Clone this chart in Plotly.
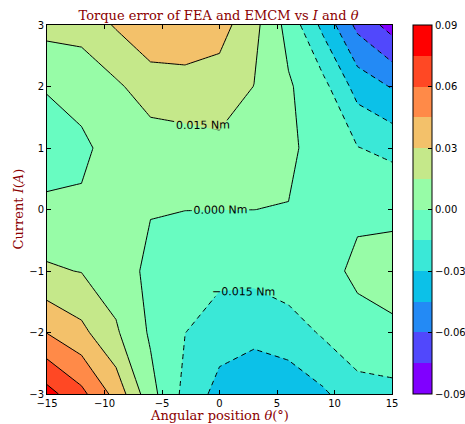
import plotly.graph_objects as go

# ---------------- data ----------------
theta = [-15, -12, -9, -6, -3, 0, 3, 6, 9, 12, 15]          # angular position (deg)
current = [-3, -2, -1, 0, 1, 2, 3]                          # current (A)

err_i_m3 = [0.0805, 0.064, 0.040, 0.005, -0.019, -0.0355, -0.040, -0.039, -0.0323, -0.0207, -0.0202]
err_i_m2 = [0.0445, 0.0339, 0.0169, -0.002, -0.0148, -0.0231, -0.0263, -0.0226, -0.0131, -0.0053, -0.0004]
err_i_m1 = [0.0167, 0.0145, 0.0079, -0.0036, -0.010, -0.011, -0.0106, -0.0057, -0.005, 0.003, 0.0009]
err_i_0 = [0.0055, 0.002, 0.006, 0.0007, 0.0002, 0.0001, 0.00005, -0.0006, -0.004, -0.0024, -0.0005]
err_i_p1 = [-0.0134, -0.0027, 0.0054, 0.0076, 0.0097, 0.0117, 0.009, 0.004, -0.0093, -0.0145, -0.0193]
err_i_p2 = [0.002, 0.005, 0.0126, 0.0224, 0.023, 0.023, 0.0148, 0.0017, -0.0103, -0.036, -0.046]
err_i_p3 = [0.0196, 0.0206, 0.0314, 0.0414, 0.043, 0.036, 0.0193, -0.005, -0.034, -0.064, -0.081]

z = [err_i_m3, err_i_m2, err_i_m1, err_i_0, err_i_p1, err_i_p2, err_i_p3]

level_start = -0.09
level_end = 0.09
level_step = 0.015
cbar_ticks = [-0.09, -0.06, -0.03, 0.0, 0.03, 0.06, 0.09]
x_ticks = [-15, -10, -5, 0, 5, 10, 15]
y_ticks = [-3, -2, -1, 0, 1, 2, 3]

# rainbow colormap sampled at 12 bands
band_colors = ['#8000ff', '#5148fc', '#238af5', '#0cc1e8', '#3ae8d7', '#68fcc1',
               '#97fca7', '#c5e88a', '#f3c16a', '#ff8a48', '#ff4824', '#ff0000']
nb = len(band_colors)
nseg = nb + 1

# stepped fill colorscale: band k is sampled at s=(k+1)/13, so steps sit at half points
edges = [0.0] + [(k + 0.5) / nseg for k in range(1, nb)] + [1.0]
fill_scale = []
for k, c in enumerate(band_colors):
    fill_scale.append([edges[k], c])
    fill_scale.append([edges[k + 1], c])

bar_scale = []
for k, c in enumerate(band_colors):
    bar_scale.append([k / nb, c])
    bar_scale.append([(k + 1) / nb, c])

black_scale = [[0, 'black'], [1, 'black']]
TRANSPARENT = 'rgba(0,0,0,0)'
DEJAVU = 'DejaVu Sans'
SERIF = 'DejaVu Serif'
TITLE_RED = '#8b0000'
LABEL_FONT = dict(family=DEJAVU, size=11, color='black')


def hidden_cbar():
    # off-canvas colour bar without ticks: only gives contour labels the " Nm" suffix
    return dict(thickness=10, len=0.3, x=-2, xanchor='right', y=0.5, outlinewidth=0,
                tickformat='.3f', ticksuffix=' Nm', ticks='',
                tickmode='array', tickvals=[],
                tickfont=dict(color=TRANSPARENT, size=10))


fig = go.Figure()

# filled contour
fig.add_trace(go.Contour(
    x=theta, y=current, z=z,
    contours=dict(start=level_start, end=level_end, size=level_step,
                  coloring='fill', showlines=False),
    colorscale=fill_scale, showscale=False,
    line=dict(width=0, smoothing=0), hoverinfo='skip'))

# positive / zero levels: solid lines with labels
fig.add_trace(go.Contour(
    x=theta, y=current, z=z,
    contours=dict(start=0.0, end=level_end, size=level_step,
                  coloring='lines', showlabels=True, labelfont=LABEL_FONT),
    colorscale=black_scale, showscale=True, colorbar=hidden_cbar(),
    line=dict(width=1, smoothing=0), hoverinfo='skip'))

# negative levels: dashed lines with labels
fig.add_trace(go.Contour(
    x=theta, y=current, z=z,
    contours=dict(start=level_start, end=-level_step, size=level_step,
                  coloring='lines', showlabels=True, labelfont=LABEL_FONT),
    colorscale=black_scale, showscale=True, colorbar=hidden_cbar(),
    line=dict(width=1, smoothing=0, dash='5px,4px'), hoverinfo='skip'))

# colour bar
fig.add_trace(go.Scatter(
    x=[theta[0]], y=[current[0]], mode='markers', hoverinfo='skip',
    marker=dict(size=1, opacity=0, color=[0], cmin=level_start, cmax=level_end,
                colorscale=bar_scale, showscale=True,
                colorbar=dict(x=1.061, xanchor='left', xpad=0, y=0.5, yanchor='middle',
                              ypad=0, len=1, lenmode='fraction', thickness=19,
                              outlinewidth=1, outlinecolor='black',
                              tickvals=cbar_ticks, tickformat='.2f',
                              ticks='inside', ticklen=4, tickcolor='black',
                              tickfont=dict(family=DEJAVU, size=10, color='black'))),
    showlegend=False))

axis_common = dict(showgrid=False, zeroline=False, showline=True, linecolor='black',
                   linewidth=1, mirror='ticks', ticks='inside', ticklen=4,
                   tickcolor='black', tickfont=dict(family=DEJAVU, size=10, color='black'))

fig.update_layout(
    width=465, height=424,
    margin=dict(l=47, r=73, t=25, b=30, autoexpand=False),
    paper_bgcolor='white', plot_bgcolor='white',
    showlegend=False,
    xaxis=dict(range=[-15, 15], tickvals=x_ticks, **axis_common),
    yaxis=dict(range=[-3, 3], tickvals=y_ticks, **axis_common),
    title=dict(text='Torque error of FEA and EMCM vs <i>I</i> and <i>θ</i>',
               x=0.47, xanchor='center', y=1 - 15 / 424, yanchor='middle',
               xref='container', yref='container',
               font=dict(family=SERIF, size=13, color=TITLE_RED)),
    annotations=[
        dict(text='Angular position <i>θ</i>(°)', xref='paper', yref='paper',
             x=0.5, y=-0.057, xanchor='center', yanchor='middle', showarrow=False,
             font=dict(family=SERIF, size=13, color=TITLE_RED)),
        dict(text='Current <i>I</i>(<i>A</i>)', xref='paper', yref='paper',
             x=-0.084, y=0.5, xanchor='center', yanchor='middle', showarrow=False,
             textangle=-90, font=dict(family=SERIF, size=13, color=TITLE_RED)),
    ],
)

fig.write_html('out.html')
